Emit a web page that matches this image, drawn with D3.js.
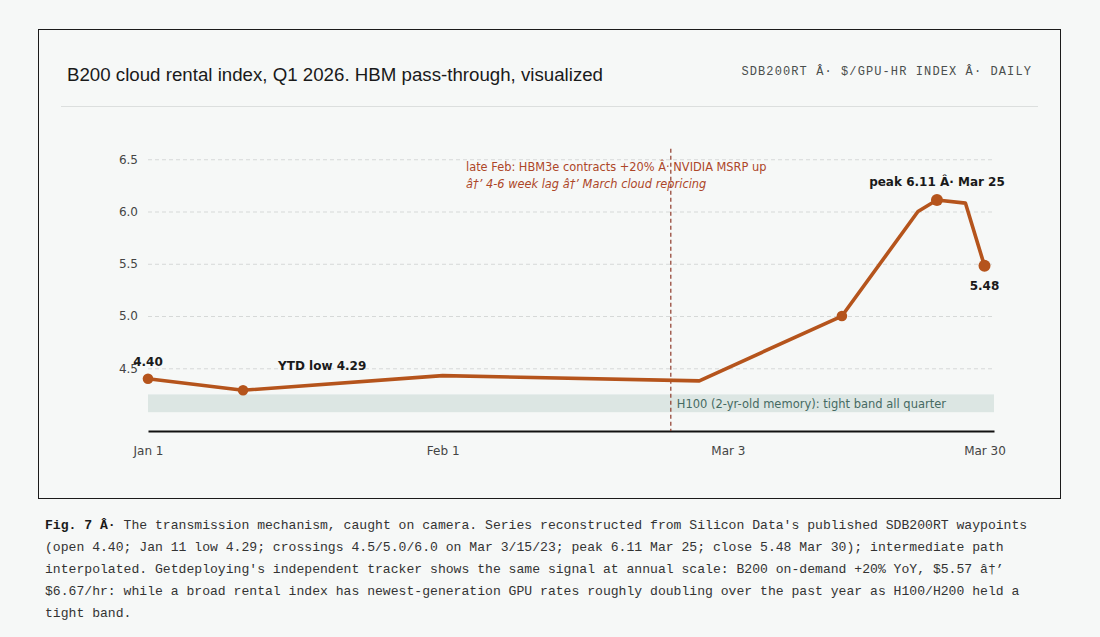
<!DOCTYPE html>
<html>
<head>
<meta charset="utf-8">
<script src="https://cdn.jsdelivr.net/npm/d3@7"></script>
<style>
  body { margin: 0; background: #f6f8f7; }
  svg { display: block; }
</style>
</head>
<body>
<svg width="1100" height="637"></svg>
<script>
// Series (SDB200RT waypoints + interpolated path)
const dates = ["2026-01-01", "2026-01-11", "2026-02-01", "2026-02-28", "2026-03-15", "2026-03-23", "2026-03-25", "2026-03-28", "2026-03-30"];
const values = [4.40, 4.29, 4.43, 4.38, 5.00, 6.00, 6.11, 6.08, 5.48];
const markerIdx = [0, 1, 4, 6, 8];

const yTicks = [4.5, 5.0, 5.5, 6.0, 6.5];
const xTickDates = ["2026-01-01", "2026-02-01", "2026-03-03", "2026-03-30"];
const xTickLabels = ["Jan 1", "Feb 1", "Mar 3", "Mar 30"];

const h100Band = [4.08, 4.25];
const eventDate = "2026-02-25";

const captionLines = [
  "The transmission mechanism, caught on camera. Series reconstructed from Silicon Data's published SDB200RT waypoints",
  "(open 4.40; Jan 11 low 4.29; crossings 4.5/5.0/6.0 on Mar 3/15/23; peak 6.11 Mar 25; close 5.48 Mar 30); intermediate path",
  "interpolated. Getdeploying's independent tracker shows the same signal at annual scale: B200 on-demand +20% YoY, $5.57 \u00e2\u2020\u2019",
  "$6.67/hr: while a broad rental index has newest-generation GPU rates roughly doubling over the past year as H100/H200 held a",
  "tight band."
];

const parse = d3.utcParse("%Y-%m-%d");
const data = dates.map((d, i) => ({ date: parse(d), value: values[i] }));

const svg = d3.select("svg");
const orange = "#b5541c";
const sans = "'DejaVu Sans', sans-serif";
const mono = "'Liberation Mono', 'DejaVu Sans Mono', monospace";

// figure frame
svg.append("rect")
  .attr("x", 38.5).attr("y", 29.5)
  .attr("width", 1022).attr("height", 469)
  .attr("fill", "#f6f8f7")
  .attr("stroke", "#1b1b1b");

svg.append("text")
  .attr("x", 67).attr("y", 81)
  .attr("font-family", "'Liberation Sans', Arial, sans-serif")
  .attr("font-size", 18.7)
  .attr("fill", "#1a1a1a")
  .text("B200 cloud rental index, Q1 2026. HBM pass-through, visualized");

svg.append("text")
  .attr("x", 1032).attr("y", 75)
  .attr("text-anchor", "end")
  .attr("font-family", mono)
  .attr("font-size", 12)
  .attr("letter-spacing", 1.1)
  .attr("fill", "#4a4f4d")
  .text("SDB200RT \u00c2\u00b7 $/GPU-HR INDEX \u00c2\u00b7 DAILY");

svg.append("line")
  .attr("x1", 61).attr("x2", 1038)
  .attr("y1", 106.5).attr("y2", 106.5)
  .attr("stroke", "#dcdfde");

// scales
const x = d3.scaleUtc()
  .domain([parse("2026-01-01"), parse("2026-03-31")])
  .range([148, 994]);
const y = d3.scaleLinear()
  .domain([3.9, 6.6])
  .range([431, 148.8]);

// gridlines + y labels
const yAxis = svg.append("g")
  .attr("transform", "translate(148,0)")
  .call(d3.axisLeft(y).tickValues(yTicks).tickFormat(d3.format(".1f")).tickSize(-(994 - 148)).tickPadding(10));
yAxis.select(".domain").remove();
yAxis.selectAll(".tick line")
  .attr("stroke", "#d6d9d8")
  .attr("stroke-dasharray", "4,3");
yAxis.selectAll(".tick text")
  .attr("font-family", sans)
  .attr("font-size", 12)
  .attr("fill", "#444");

// H100 band
svg.append("rect")
  .attr("x", x.range()[0])
  .attr("width", x.range()[1] - x.range()[0])
  .attr("y", y(h100Band[1]))
  .attr("height", y(h100Band[0]) - y(h100Band[1]))
  .attr("fill", "#dce6e3");

svg.append("text")
  .attr("x", x(parse(eventDate)) + 6)
  .attr("y", y(h100Band[0]) - 4)
  .attr("font-family", sans)
  .attr("font-size", 11.5)
  .attr("fill", "#466a62")
  .text("H100 (2-yr-old memory): tight band all quarter");

// x axis
const xAxis = svg.append("g")
  .attr("transform", "translate(0,431)")
  .call(d3.axisBottom(x).tickValues(xTickDates.map(parse)).tickFormat((d, i) => xTickLabels[i]).tickSize(0).tickPadding(15));
xAxis.select(".domain")
  .attr("stroke", "#111")
  .attr("stroke-width", 2);
xAxis.selectAll(".tick text")
  .attr("font-family", sans)
  .attr("font-size", 12)
  .attr("fill", "#444");

// event marker
const ex = x(parse(eventDate));
svg.append("line")
  .attr("x1", ex).attr("x2", ex)
  .attr("y1", y(6.6)).attr("y2", 431)
  .attr("stroke", "#8e3a2a")
  .attr("stroke-width", 1.2)
  .attr("stroke-dasharray", "4,3");

const ann = svg.append("text")
  .attr("font-family", sans)
  .attr("font-size", 11.4)
  .attr("fill", "#ad4628");
ann.append("tspan")
  .attr("x", 466).attr("y", 171)
  .text("late Feb: HBM3e contracts +20% \u00c2\u00b7 NVIDIA MSRP up");
ann.append("tspan")
  .attr("x", 466).attr("y", 188)
  .attr("font-style", "italic")
  .text("\u00e2\u2020\u2019 4-6 week lag \u00e2\u2020\u2019 March cloud repricing");

// series line
svg.append("path")
  .datum(data)
  .attr("fill", "none")
  .attr("stroke", orange)
  .attr("stroke-width", 3.6)
  .attr("stroke-linejoin", "round")
  .attr("d", d3.line().x(d => x(d.date)).y(d => y(d.value)));

svg.selectAll(".dot")
  .data(markerIdx.map(i => data[i]))
  .enter().append("circle")
  .attr("class", "dot")
  .attr("cx", d => x(d.date))
  .attr("cy", d => y(d.value))
  .attr("r", (d, i) => i >= 3 ? 6 : 5.3)
  .attr("fill", orange);

// point labels
const lbl = (d, dx, dy, anchor, txt) => svg.append("text")
  .attr("x", x(d.date) + dx)
  .attr("y", y(d.value) + dy)
  .attr("text-anchor", anchor)
  .attr("font-family", sans)
  .attr("font-size", 12)
  .attr("font-weight", "bold")
  .attr("fill", "#1a1a1a")
  .text(txt);

lbl(data[0], 0, -13, "middle", "4.40");
lbl(data[1], 35, -20, "start", "YTD low 4.29");
lbl(data[6], 0, -14, "middle", "peak 6.11 \u00c2\u00b7 Mar 25");
lbl(data[8], 0, 24, "middle", "5.48");

// caption
const cap = svg.append("text")
  .attr("font-family", mono)
  .attr("font-size", 13.1)
  .attr("fill", "#333");
captionLines.forEach((line, i) => {
  const t = cap.append("tspan")
    .attr("x", 45)
    .attr("y", 529 + i * 22);
  if (i === 0) {
    t.append("tspan").attr("font-weight", "bold").attr("fill", "#1a1a1a").text("Fig. 7 \u00c2\u00b7 ");
    t.append("tspan").text(line);
  } else {
    t.text(line);
  }
});
</script>
</body>
</html>
